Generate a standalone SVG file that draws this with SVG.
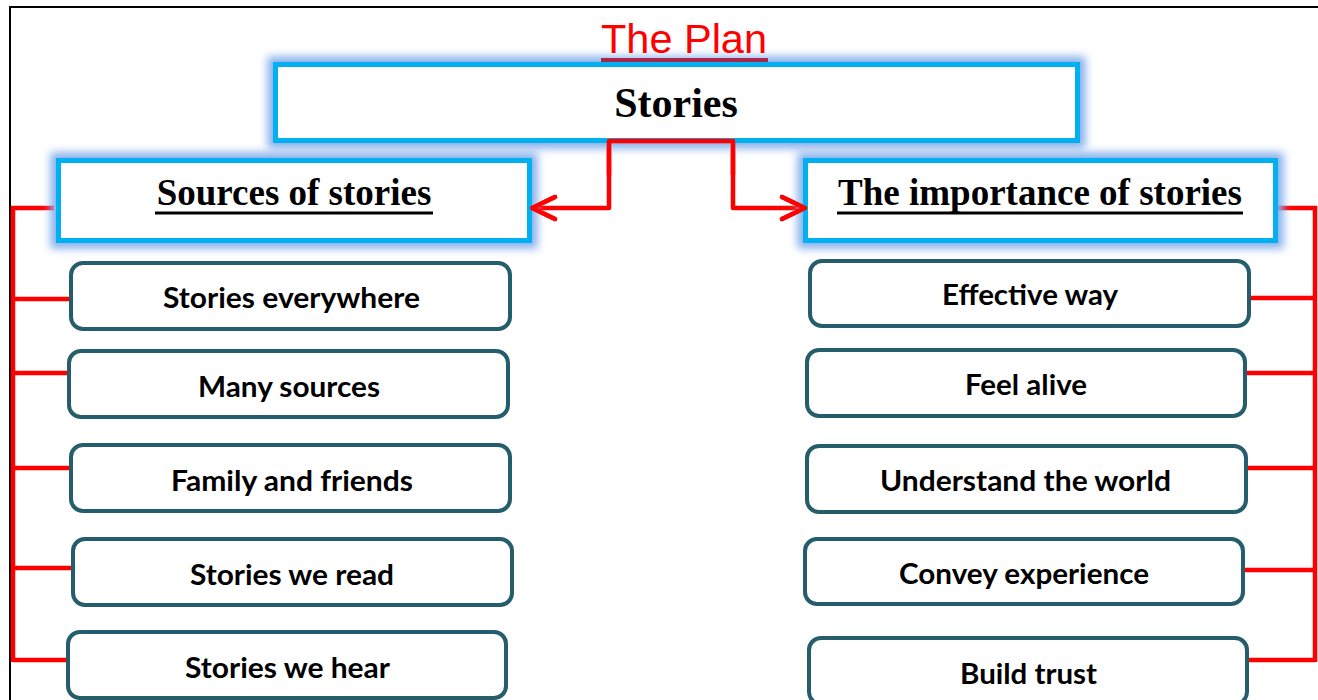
<svg xmlns="http://www.w3.org/2000/svg" width="1318" height="700" viewBox="0 0 1318 700">
  <defs>
    <filter id="glow" x="-10%" y="-40%" width="120%" height="180%">
      <feGaussianBlur stdDeviation="4.5"/>
    </filter>
    <style>
      .glow { fill: none; stroke: #86b0ec; stroke-width: 16; filter: url(#glow); }
      .main { fill: #ffffff; stroke: #00b0f0; stroke-width: 5; }
      .item { fill: #ffffff; stroke: #255d6c; stroke-width: 4; }
      .head { font-family: "Liberation Serif", "Times New Roman", serif; font-weight: bold; fill: #000000; text-anchor: middle; }
      .lbl { font-family: Lato, "Liberation Sans", sans-serif; font-weight: bold; font-size: 29px; fill: #000000; text-anchor: middle; }
      .red { fill: none; stroke: #ff0000; stroke-width: 4.5; }
    </style>
  </defs>
  <rect x="0" y="0" width="1318" height="700" fill="#ffffff"/>
  <!-- page border -->
  <path d="M 10 700 V 7 H 1318" fill="none" stroke="#000000" stroke-width="2"/>

  <g id="connectors">
    <path class="red" d="M 531 208 H 609 V 141 H 733 V 208 H 805" stroke-linejoin="round" stroke-linecap="round"/>
    <polyline class="red" points="555,197 532,208 555,219" stroke-linecap="round" stroke-linejoin="round"/>
    <polyline class="red" points="782,197 805,208 782,219" stroke-linecap="round" stroke-linejoin="round"/>
    <!-- left bracket -->
    <path class="red" d="M 54 208 H 13 V 662"/>
    <line class="red" x1="14" y1="299" x2="70" y2="299"/>
    <line class="red" x1="14" y1="373" x2="68" y2="373"/>
    <line class="red" x1="14" y1="468" x2="70" y2="468"/>
    <line class="red" x1="14" y1="568" x2="72" y2="568"/>
    <line class="red" x1="14" y1="660" x2="67" y2="660"/>
    <!-- right bracket -->
    <path class="red" d="M 1273 208 H 1315 V 662"/>
    <line class="red" x1="1250" y1="298" x2="1315" y2="298"/>
    <line class="red" x1="1246" y1="373" x2="1315" y2="373"/>
    <line class="red" x1="1247" y1="468" x2="1315" y2="468"/>
    <line class="red" x1="1244" y1="570" x2="1315" y2="570"/>
    <line class="red" x1="1248" y1="660" x2="1315" y2="660"/>
  </g>

  <g id="stories">
    <rect class="glow" x="275.5" y="64.5" width="802" height="76"/>
    <rect class="main" x="275.5" y="64.5" width="802" height="76"/>
    <text class="head" x="676" y="117" font-size="42">Stories</text>
  </g>
  <!-- connector top drawn over stories box edge -->
  <path class="red" d="M 609 175 V 141 H 733 V 175" stroke-linejoin="round"/>

  <g id="title">
    <text x="684" y="53" font-family="Liberation Sans, Arial, sans-serif" font-size="40" fill="#ff0000" text-anchor="middle" textLength="166" lengthAdjust="spacingAndGlyphs">The Plan</text>
    <line x1="601" y1="60" x2="768" y2="60" stroke="#a8284c" stroke-width="4"/>
  </g>

  <g id="sources">
    <rect class="glow" x="58.5" y="160.5" width="471" height="80"/>
    <rect class="main" x="58.5" y="160.5" width="471" height="80"/>
    <text class="head" x="294" y="205" font-size="37">Sources of stories</text>
    <line x1="155" y1="213" x2="433" y2="213" stroke="#000000" stroke-width="3"/>
  </g>

  <g id="importance">
    <rect class="glow" x="805.5" y="160.5" width="470" height="80"/>
    <rect class="main" x="805.5" y="160.5" width="470" height="80"/>
    <text class="head" x="1040" y="205" font-size="37">The importance of stories</text>
    <line x1="837" y1="213" x2="1243" y2="213" stroke="#000000" stroke-width="3"/>
  </g>
  <!-- arrow tips over box edges -->
  <polyline class="red" points="555,197 532,208 555,219" stroke-linecap="round" stroke-linejoin="round"/>
  <polyline class="red" points="782,197 805,208 782,219" stroke-linecap="round" stroke-linejoin="round"/>

  <g id="stories-everywhere">
    <rect class="item" x="71" y="263" width="439" height="66" rx="12"/>
    <text class="lbl" x="291.5" y="308" textLength="257" lengthAdjust="spacingAndGlyphs">Stories everywhere</text>
  </g>
  <g id="many-sources">
    <rect class="item" x="69" y="351" width="439" height="66" rx="12"/>
    <text class="lbl" x="289" y="397" textLength="182" lengthAdjust="spacingAndGlyphs">Many sources</text>
  </g>
  <g id="family-and-friends">
    <rect class="item" x="71" y="445" width="439" height="66" rx="12"/>
    <text class="lbl" x="292" y="491" textLength="242" lengthAdjust="spacingAndGlyphs">Family and friends</text>
  </g>
  <g id="stories-we-read">
    <rect class="item" x="73" y="539" width="439" height="66" rx="12"/>
    <text class="lbl" x="292" y="585" textLength="204" lengthAdjust="spacingAndGlyphs">Stories we read</text>
  </g>
  <g id="stories-we-hear">
    <rect class="item" x="68" y="632" width="438" height="66" rx="12"/>
    <text class="lbl" x="287.5" y="678" textLength="205" lengthAdjust="spacingAndGlyphs">Stories we hear</text>
  </g>

  <g id="effective-way">
    <rect class="item" x="810" y="261" width="439" height="65" rx="12"/>
    <text class="lbl" x="1030" y="305" textLength="176" lengthAdjust="spacingAndGlyphs">Effective way</text>
  </g>
  <g id="feel-alive">
    <rect class="item" x="807" y="350" width="438" height="66" rx="12"/>
    <text class="lbl" x="1026" y="395" textLength="122" lengthAdjust="spacingAndGlyphs">Feel alive</text>
  </g>
  <g id="understand-the-world">
    <rect class="item" x="807" y="446" width="439" height="66" rx="12"/>
    <text class="lbl" x="1025.5" y="491" textLength="291" lengthAdjust="spacingAndGlyphs">Understand the world</text>
  </g>
  <g id="convey-experience">
    <rect class="item" x="805" y="539" width="438" height="65" rx="12"/>
    <text class="lbl" x="1024" y="584" textLength="250" lengthAdjust="spacingAndGlyphs">Convey experience</text>
  </g>
  <g id="build-trust">
    <rect class="item" x="809" y="638" width="438" height="66" rx="12"/>
    <text class="lbl" x="1028.5" y="684" textLength="137" lengthAdjust="spacingAndGlyphs">Build trust</text>
  </g>
</svg>
